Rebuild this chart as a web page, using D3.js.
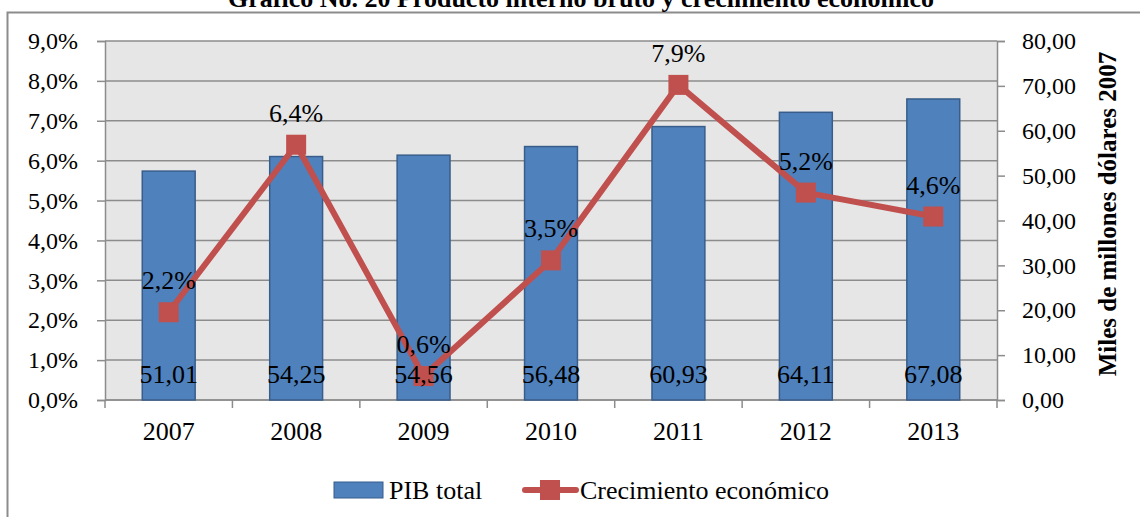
<!DOCTYPE html>
<html>
<head>
<meta charset="utf-8">
<script src="https://cdn.jsdelivr.net/npm/d3@7"></script>
<style>
  body { margin: 0; background: #fff; }
  svg { display: block; font-family: "Liberation Serif", "Times New Roman", serif; }
</style>
</head>
<body>
<div id="chart"></div>
<script>
// Data
var years = ["2007", "2008", "2009", "2010", "2011", "2012", "2013"];
var pibTotal = [51.01, 54.25, 54.56, 56.48, 60.93, 64.11, 67.08];      // miles de millones USD 2007
var crecimiento = [0.022, 0.064, 0.006, 0.035, 0.079, 0.052, 0.046];  // crecimiento economico
var leftTicks = [0, 0.01, 0.02, 0.03, 0.04, 0.05, 0.06, 0.07, 0.08, 0.09];
var rightTicks = [0, 10, 20, 30, 40, 50, 60, 70, 80];

var svgWidth = 1140;
var svgHeight = 517;

// plot area
var plot = { left: 105, right: 997, top: 41, bottom: 400 };

var locale = d3.formatLocale({ decimal: ",", thousands: ".", grouping: [3], currency: ["", ""] });
var fmtPct = locale.format(".1%");
var fmtNum = locale.format(".2f");

var svg = d3.select("#chart")
    .append("svg")
    .attr("width", svgWidth)
    .attr("height", svgHeight);

// outer frame (runs off the right and bottom edges)
svg.append("rect")
    .attr("x", 7.5)
    .attr("y", 12.5)
    .attr("width", 1200)
    .attr("height", 600)
    .attr("fill", "#fff")
    .attr("stroke", "#8c8c8c")
    .attr("stroke-width", 2);

// title, cut off at the top like in the source
svg.append("text")
    .attr("x", 581)
    .attr("y", 7)
    .attr("text-anchor", "middle")
    .attr("font-weight", "bold")
    .attr("font-size", 26)
    .text("Gráfico No. 20 Producto interno bruto y crecimiento económico");

// scales
var x = d3.scaleBand()
    .domain(years)
    .range([plot.left, plot.right]);

var yLeft = d3.scaleLinear()
    .domain([0, 0.09])
    .range([plot.bottom, plot.top]);

var yRight = d3.scaleLinear()
    .domain([0, 80])
    .range([plot.bottom, plot.top]);

// plot background
svg.append("rect")
    .attr("x", plot.left)
    .attr("y", plot.top)
    .attr("width", plot.right - plot.left)
    .attr("height", plot.bottom - plot.top)
    .attr("fill", "#e6e6e6");

// gridlines
svg.append("g")
    .selectAll("line")
    .data(leftTicks)
    .enter()
    .append("line")
    .attr("x1", plot.left)
    .attr("x2", plot.right)
    .attr("y1", d => yLeft(d))
    .attr("y2", d => yLeft(d))
    .attr("stroke", "#8c8c8c")
    .attr("stroke-width", 1.5);

// axes
var leftAxis = svg.append("g")
    .attr("transform", `translate(${plot.left},0)`)
    .call(d3.axisLeft(yLeft).tickValues(leftTicks).tickFormat(fmtPct).tickSize(8).tickPadding(19));

var rightAxis = svg.append("g")
    .attr("transform", `translate(${plot.right},0)`)
    .call(d3.axisRight(yRight).tickValues(rightTicks).tickFormat(fmtNum).tickSize(8).tickPadding(17));

var bottomAxis = svg.append("g")
    .attr("transform", `translate(0,${plot.bottom})`)
    .call(d3.axisBottom(x).tickSize(0).tickPadding(22));

// category boundary ticks
svg.append("g")
    .selectAll("line")
    .data(years.concat(["end"]))
    .enter()
    .append("line")
    .attr("x1", (d, i) => plot.left + i * x.step())
    .attr("x2", (d, i) => plot.left + i * x.step())
    .attr("y1", plot.bottom)
    .attr("y2", plot.bottom + 8)
    .attr("stroke", "#8c8c8c")
    .attr("stroke-width", 1.5);

[leftAxis, rightAxis, bottomAxis].forEach(function (ax) {
    ax.selectAll("path.domain").attr("stroke", "#8c8c8c").attr("stroke-width", 1.5);
    ax.selectAll(".tick line").attr("stroke", "#8c8c8c").attr("stroke-width", 1.5);
    ax.selectAll("text")
        .attr("font-family", "Liberation Serif, Times New Roman, serif")
        .attr("font-size", 24)
        .attr("fill", "#000");
});
bottomAxis.select("path.domain").attr("d", `M${plot.left},0H${plot.right}`);
bottomAxis.selectAll("text").attr("font-size", 26);

// right axis title
svg.append("text")
    .attr("transform", "translate(1116,214) rotate(-90)")
    .attr("text-anchor", "middle")
    .attr("font-weight", "bold")
    .attr("font-size", 25)
    .text("Miles de millones dólares 2007");

// bars
var barW = x.bandwidth() * 0.415;
svg.append("g")
    .selectAll("rect")
    .data(pibTotal)
    .enter()
    .append("rect")
    .attr("x", (d, i) => x(years[i]) + (x.bandwidth() - barW) / 2)
    .attr("y", d => yRight(d))
    .attr("width", barW)
    .attr("height", d => plot.bottom - yRight(d))
    .attr("fill", "#4f81bd")
    .attr("stroke", "#385d8a")
    .attr("stroke-width", 1.5);

// line
var cx = (d, i) => x(years[i]) + x.bandwidth() / 2;
var line = d3.line()
    .x((d, i) => cx(d, i))
    .y(d => yLeft(d));

svg.append("path")
    .datum(crecimiento)
    .attr("d", line)
    .attr("fill", "none")
    .attr("stroke", "#c0504d")
    .attr("stroke-width", 6)
    .attr("stroke-linejoin", "round");

// markers
svg.append("g")
    .selectAll("rect")
    .data(crecimiento)
    .enter()
    .append("rect")
    .attr("x", (d, i) => cx(d, i) - 10)
    .attr("y", d => yLeft(d) - 10)
    .attr("width", 20)
    .attr("height", 20)
    .attr("fill", "#c0504d");

// bar value labels (inside base)
svg.append("g")
    .selectAll("text")
    .data(pibTotal)
    .enter()
    .append("text")
    .attr("x", (d, i) => cx(d, i))
    .attr("y", plot.bottom - 17)
    .attr("text-anchor", "middle")
    .attr("font-size", 26)
    .text(d => fmtNum(d));

// growth labels (above points)
svg.append("g")
    .selectAll("text")
    .data(crecimiento)
    .enter()
    .append("text")
    .attr("x", (d, i) => cx(d, i))
    .attr("y", d => yLeft(d) - 23)
    .attr("text-anchor", "middle")
    .attr("font-size", 26)
    .text(d => fmtPct(d));

// legend
var legend = svg.append("g").attr("transform", "translate(0,490)");
legend.append("rect")
    .attr("x", 334)
    .attr("y", -8)
    .attr("width", 49)
    .attr("height", 16)
    .attr("fill", "#4f81bd")
    .attr("stroke", "#385d8a")
    .attr("stroke-width", 1);
legend.append("text")
    .attr("x", 389)
    .attr("y", 9)
    .attr("font-size", 26)
    .text("PIB total");
legend.append("line")
    .attr("x1", 525)
    .attr("x2", 576)
    .attr("y1", 0)
    .attr("y2", 0)
    .attr("stroke", "#c0504d")
    .attr("stroke-width", 6)
    .attr("stroke-linecap", "round");
legend.append("rect")
    .attr("x", 540)
    .attr("y", -10)
    .attr("width", 20)
    .attr("height", 20)
    .attr("fill", "#c0504d");
legend.append("text")
    .attr("x", 580)
    .attr("y", 9)
    .attr("font-size", 26)
    .text("Crecimiento económico");
</script>
</body>
</html>
